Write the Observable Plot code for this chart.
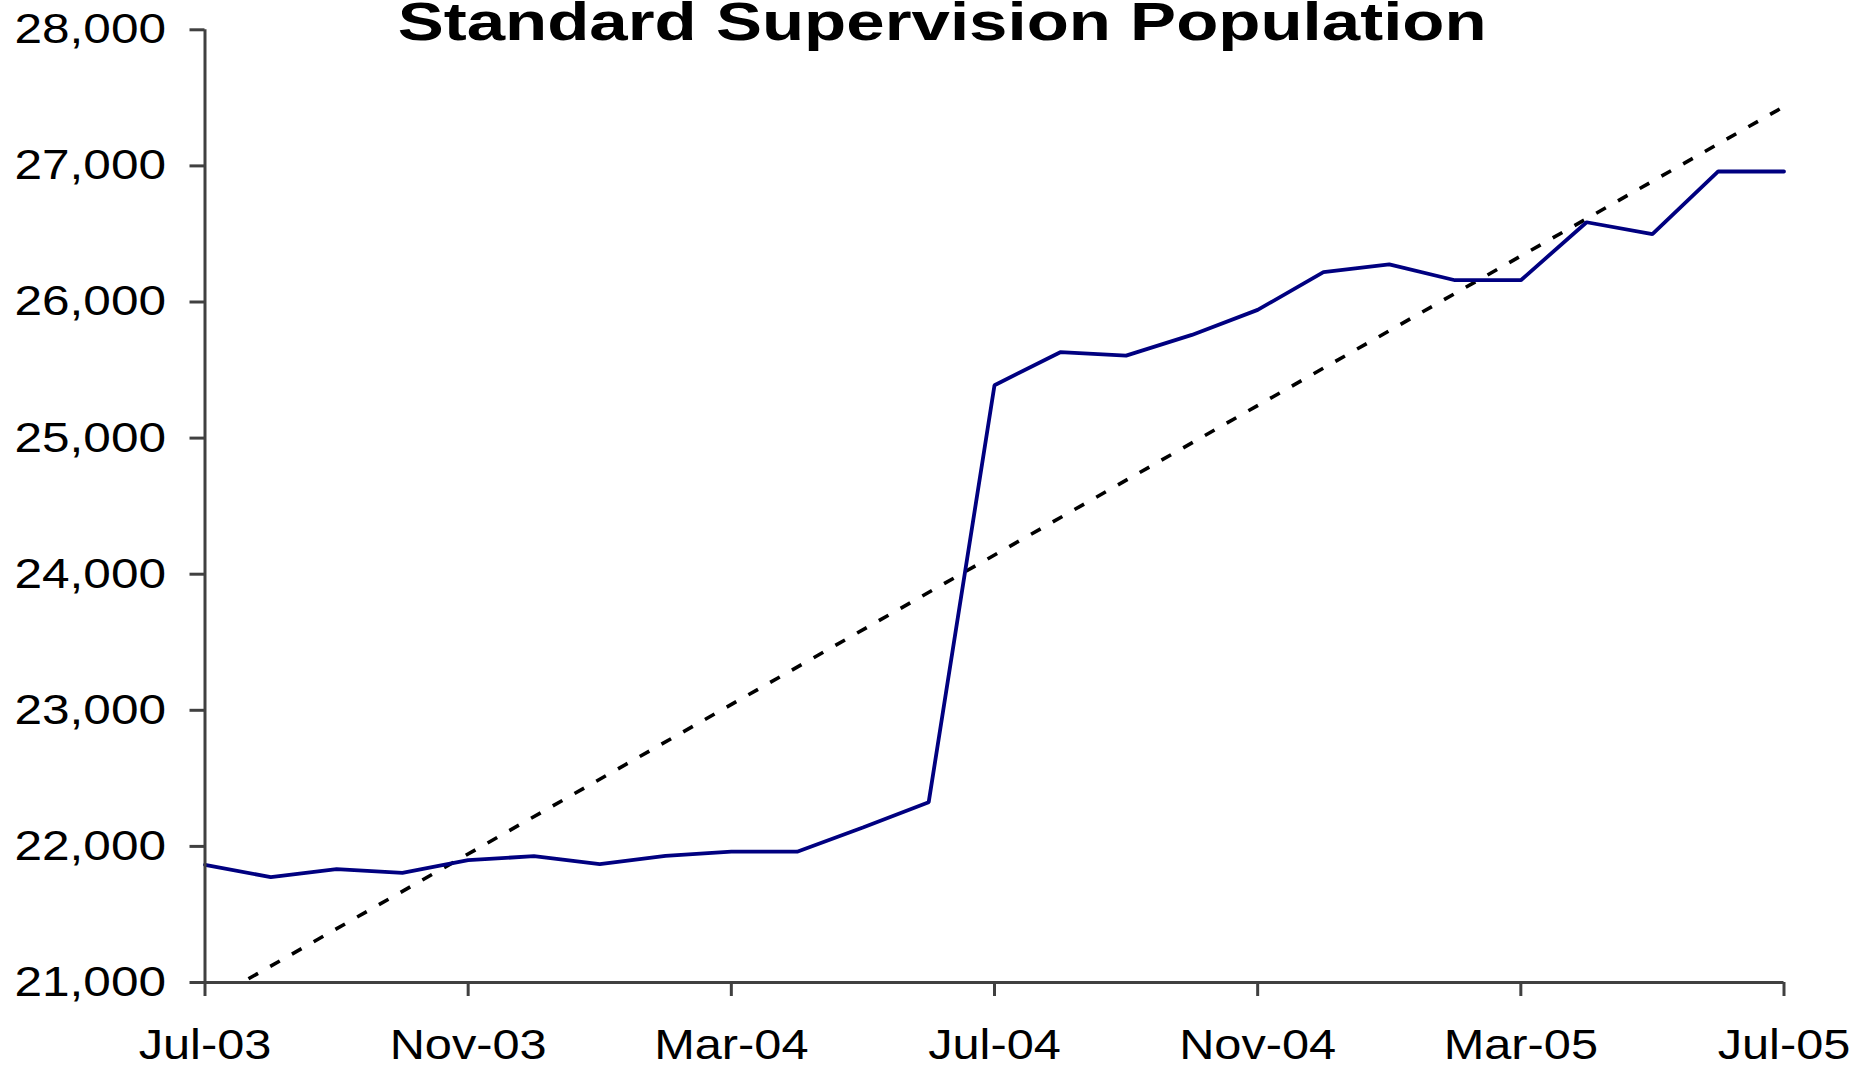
<!DOCTYPE html>
<html>
<head>
<meta charset="utf-8">
<script src="https://cdn.jsdelivr.net/npm/d3@7"></script>
<script src="https://cdn.jsdelivr.net/npm/@observablehq/plot@0.6"></script>
<style>
  html, body { margin: 0; padding: 0; background: #ffffff; }
  #wrap { position: relative; width: 1867px; height: 1067px; overflow: hidden; background: #fff; }
  #title { position: absolute; top: -5.4px; left: 9px; width: 1867px; text-align: center;
           font: bold 53px/53px "Liberation Sans", Arial, sans-serif; white-space: nowrap; color: #000; }
  #title span { display: inline-block; transform-origin: 50% 50%; }
  #chart { position: absolute; left: 0; top: 0; }
</style>
</head>
<body>
<div id="wrap">
  <div id="chart"></div>
  <div id="title"><span id="titleText">Standard Supervision Population</span></div>
</div>
<script>
// ---- data ----
const months = ["Jul-03","Aug-03","Sep-03","Oct-03","Nov-03","Dec-03","Jan-04","Feb-04","Mar-04","Apr-04",
                "May-04","Jun-04","Jul-04","Aug-04","Sep-04","Oct-04","Nov-04","Dec-04","Jan-05","Feb-05",
                "Mar-05","Apr-05","May-05","Jun-05","Jul-05"];
const population = [21865, 21774, 21833, 21806, 21899, 21928, 21870, 21931, 21961, 21961,
                    22139, 22325, 25388, 25631, 25606, 25758, 25942, 26219, 26277, 26160,
                    26160, 26586, 26498, 26959, 26959];
// linear trendline (as drawn in the reference), end points
const trendMonths = ["Jul-03", "Jul-05"];
const trendValues = [20846, 27436];
const xTickLabels = ["Jul-03","Nov-03","Mar-04","Jul-04","Nov-04","Mar-05","Jul-05"];
const yTicks = [21000, 22000, 23000, 24000, 25000, 26000, 27000, 28000];

// ---- tables for Plot ----
const series = months.map((m, i) => ({i, month: m, value: population[i]}));
const trend = trendMonths.map((m, k) => ({i: months.indexOf(m), value: trendValues[k]}));
const xTicks = xTickLabels.map(m => months.indexOf(m));

const axisColor = "#404040";
const font = "'Liberation Sans', Arial, sans-serif";

const chart = Plot.plot({
  width: 1867,
  height: 1067,
  marginLeft: 204.5,
  marginRight: 83.5,
  marginTop: 29.3,
  marginBottom: 85,
  style: {fontFamily: font, fontSize: "42px", background: "#ffffff", color: "#000"},
  x: {type: "linear", domain: [0, months.length - 1]},
  y: {domain: [21000, 28000]},
  marks: [
    Plot.line(trend, {x: "i", y: "value", stroke: "#000", strokeWidth: 3.6,
                      strokeDasharray: "11,14", strokeLinecap: "butt", clip: true}),
    Plot.line(series, {x: "i", y: "value", stroke: "#000080", strokeWidth: 3.8,
                       strokeLinejoin: "miter", strokeLinecap: "round"}),
    Plot.ruleX([0], {stroke: axisColor, strokeWidth: 3}),
    Plot.ruleY([21000], {stroke: axisColor, strokeWidth: 3}),
    Plot.axisX({ticks: xTicks, tickFormat: i => months[i], tickSize: 14, tickPadding: 33,
                stroke: axisColor, strokeWidth: 3, fill: "#000", fontSize: 42, label: null}),
    Plot.axisY({ticks: yTicks, tickFormat: d3.format(","), tickSize: 15, tickPadding: 24,
                stroke: axisColor, strokeWidth: 3, fill: "#000", fontSize: 42, label: null})
  ]
});
document.getElementById("chart").appendChild(chart);

// The reference renders its text slightly widened horizontally.
function widen(selector, k) {
  chart.querySelectorAll(selector).forEach(t => {
    const tr = t.getAttribute("transform");
    if (tr) {
      t.setAttribute("transform", tr + ` scale(${k},1)`);
    } else {
      const x = +(t.getAttribute("x") || 0), y = +(t.getAttribute("y") || 0);
      t.removeAttribute("x"); t.removeAttribute("y");
      t.setAttribute("transform", `translate(${x},${y}) scale(${k},1)`);
    }
  });
}
widen('g[aria-label="x-axis tick label"] text', 1.16);
widen('g[aria-label="y-axis tick label"] text', 1.18);

const ts = document.getElementById("titleText");
const w = ts.getBoundingClientRect().width;
ts.style.transform = `scaleX(${1089 / w})`;
</script>
</body>
</html>
